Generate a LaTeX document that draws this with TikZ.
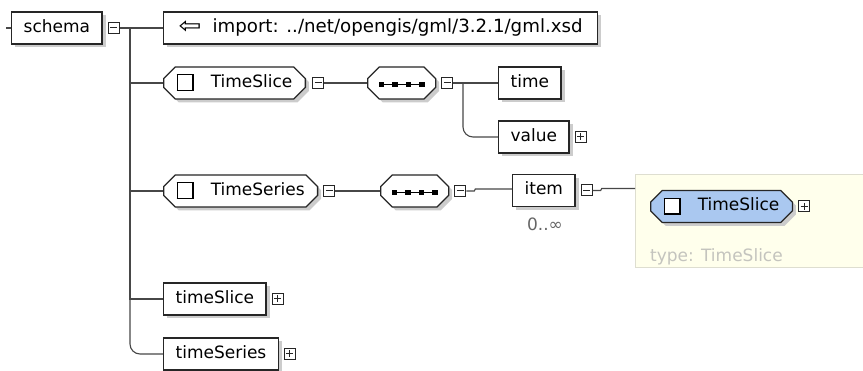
\documentclass[tikz,border=0pt]{standalone}
\usepackage{fontspec}
\setmainfont{DejaVu Sans}
\usetikzlibrary{shapes.misc,shadows,positioning}

\definecolor{selblue}{RGB}{170,200,240}
\definecolor{typebg}{RGB}{255,255,236}
\definecolor{typeline}{RGB}{222,222,208}
\definecolor{typetext}{RGB}{196,196,190}

\newcommand{\chk}{\raisebox{-2.5pt}{\fboxsep=0pt\fboxrule=1.3pt\fbox{\color{white}\rule{14.5pt}{14.5pt}}}}
\newcommand{\seqsq}{\rule[0pt]{5.5pt}{5.5pt}}
\newcommand{\seqln}{\rule[2.2pt]{8pt}{1.3pt}}
\newcommand{\seqicon}{\seqsq\seqln\seqsq\seqln\seqsq\seqln\seqsq}

\begin{document}
\begin{tikzpicture}[
  x=1pt, y=-1pt,
  font=\fontsize{17}{20}\selectfont,
  elem/.style={draw=black!85, line width=1.3pt, fill=white, anchor=west,
    minimum height=32pt, inner xsep=12pt, text height=12pt, text depth=3pt,
    drop shadow={shadow xshift=3.5pt, shadow yshift=-3.5pt, fill=black!20, opacity=1}},
  octa/.style={elem, chamfered rectangle, chamfered rectangle xsep=8pt, inner xsep=5pt},
  seqbox/.style={octa, inner xsep=3pt},
  tog/.style={draw=black!85, line width=1pt, fill=white, rectangle,
    minimum size=11pt, inner sep=0pt},
  minus/.style={tog, path picture={
    \draw[line width=1pt] ([xshift=2pt]path picture bounding box.west)
      -- ([xshift=-2pt]path picture bounding box.east);}},
  plus/.style={tog, path picture={
    \draw[line width=1pt] ([xshift=2pt]path picture bounding box.west)
      -- ([xshift=-2pt]path picture bounding box.east);
    \draw[line width=1pt] ([yshift=-2pt]path picture bounding box.north)
      -- ([yshift=2pt]path picture bounding box.south);}},
  conn/.style={draw=black!72, line width=1.1pt},
  mult/.style={text=black!60, inner sep=0pt},
  typebox/.style={fill=typebg, draw=typeline, line width=1pt, anchor=west,
    minimum width=240pt, minimum height=93pt},
  typelabel/.style={text=typetext, anchor=west, inner sep=0pt},
]
\useasboundingbox (0,0) rectangle (863,371);

% root
\coordinate (stub) at (6,28);
\node [elem] (schema) at (11,28) {schema};
\node [minus, right=5pt of schema] (schemaTog) {};
\coordinate (trunk) at (130,28);
\node [elem, inner xsep=15pt, font=\fontsize{18.2}{20}\selectfont] (import) at (163,28)
  {\raisebox{-1pt}{\scalebox{1.5}[1.25]{⇦}}\hspace{11pt}import: ../net/opengis/gml/3.2.1/gml.xsd};

% TimeSlice
\node [octa] (tsElem) at (163,83) {\chk\hspace{17pt}TimeSlice};
\node [minus, right=6pt of tsElem] (tsTog) {};
\node [seqbox] (tsSeq) at (367,83) {\seqicon};
\node [minus, right=5pt of tsSeq] (tsSeqTog) {};
\coordinate (tsFork) at (463,83);
\node [elem] (time) at (498,83) {time};
\node [elem] (value) at (498,137) {value};
\node [plus, right=5pt of value] (valueTog) {};

% TimeSeries
\node [octa] (tserElem) at (163,191) {\chk\hspace{17pt}TimeSeries};
\node [minus, right=5pt of tserElem] (tserTog) {};
\node [seqbox] (tserSeq) at (380,191) {\seqicon};
\node [minus, right=5pt of tserSeq] (tserSeqTog) {};
\node [elem] (item) at (512,190.5) {item};
\node [minus, right=5pt of item] (itemTog) {};
\node [mult] (itemMult) at (545,224) {0..∞};

\node [typebox] (itemType) at (635,221.5) {};
\node [octa, fill=selblue] (itemElem) at (650,206.5) {\chk\hspace{17pt}TimeSlice};
\node [plus, right=5pt of itemElem] (itemElemTog) {};
\node [typelabel] (itemTypeLbl) at (650,257) {type: TimeSlice};

% global elements
\node [elem] (tsGlobal) at (163,299) {timeSlice};
\node [plus, right=5pt of tsGlobal] (tsGlobalTog) {};
\node [elem] (tserGlobal) at (163,354) {timeSeries};
\node [plus, right=5pt of tserGlobal] (tserGlobalTog) {};

% connectors
\draw [conn] (stub) -- (schema.west);
\draw [conn] (schemaTog.east) -- (import.west);
\draw [conn] (trunk) |- (tsElem.west);
\draw [conn] (trunk) |- (tserElem.west);
\draw [conn] (trunk) |- (tsGlobal.west);
\draw [conn, rounded corners=10pt] (trunk) |- (tserGlobal.west);

\draw [conn] (tsTog.east) -- (tsSeq.west);
\draw [conn] (tsSeqTog.east) -- (tsFork) -- (time.west);
\draw [conn, rounded corners=10pt] (tsFork) |- (value.west);

\draw [conn] (tserTog.east) -- (tserSeq.west);
\draw [conn] (tserSeqTog.east) -- ++(8,0) -- ++(1,-2) -- (item.west |- 0,189);
\draw [conn] (itemTog.east) -- ++(8,0) -- ++(1,-2) -- (itemType.west |- 0,188.5);

\end{tikzpicture}
\end{document}
